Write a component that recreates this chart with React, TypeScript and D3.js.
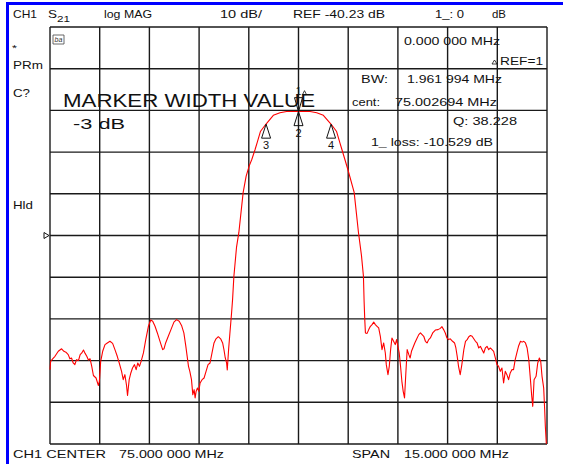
import React from 'react';
import * as d3 from 'd3';

// analyzer settings
const START_MHZ = 67.5;
const STOP_MHZ = 82.5;
const REF_DB = -40.23;
const DB_PER_DIV = 10;
const DIVS = 10;

// S21 trace (MHz, dB)
const traceMHz = [
  67.5, 67.52, 67.58, 67.65, 67.75, 67.85, 67.92, 67.98, 68.05, 68.1, 68.15, 68.2, 68.25, 68.3, 68.36, 68.41,
  68.46, 68.51, 68.56, 68.61, 68.66, 68.71, 68.76, 68.81, 68.89, 68.96, 68.99, 69.03, 69.09, 69.16, 69.23, 69.31,
  69.39, 69.46, 69.53, 69.59, 69.66, 69.71, 69.76, 69.81, 69.84, 69.89, 69.94, 69.99, 70.05, 70.1, 70.15, 70.2,
  70.25, 70.32, 70.39, 70.47, 70.54, 70.6, 70.67, 70.74, 70.82, 70.9, 70.94, 70.99, 71.07, 71.15, 71.24, 71.32,
  71.4, 71.47, 71.54, 71.6, 71.64, 71.68, 71.72, 71.77, 71.81, 71.85, 71.88, 71.91, 71.95, 71.99, 72.03, 72.09,
  72.15, 72.21, 72.27, 72.33, 72.39, 72.45, 72.51, 72.58, 72.65, 72.71, 72.75, 72.79, 72.83, 72.85, 72.89, 72.93,
  72.98, 73.01, 73.05, 73.13, 73.2, 73.33, 73.42, 73.51, 73.59, 73.69, 73.75, 73.85, 74.02, 74.24, 74.44, 74.64,
  75.0, 75.35, 75.55, 75.75, 75.98, 76.15, 76.25, 76.31, 76.4, 76.49, 76.68, 76.81, 76.9, 76.96, 76.98, 77.0,
  77.02, 77.07, 77.12, 77.17, 77.22, 77.27, 77.32, 77.37, 77.42, 77.47, 77.52, 77.57, 77.62, 77.65, 77.7, 77.74,
  77.78, 77.82, 77.87, 77.92, 77.96, 78.0, 78.04, 78.08, 78.12, 78.16, 78.2, 78.24, 78.28, 78.33, 78.37, 78.41,
  78.45, 78.51, 78.57, 78.63, 78.68, 78.73, 78.78, 78.83, 78.88, 78.93, 78.98, 79.05, 79.13, 79.21, 79.28, 79.33,
  79.38, 79.43, 79.48, 79.53, 79.58, 79.65, 79.71, 79.75, 79.79, 79.83, 79.88, 79.93, 79.99, 80.04, 80.09, 80.14,
  80.19, 80.24, 80.29, 80.34, 80.39, 80.44, 80.49, 80.54, 80.59, 80.64, 80.69, 80.74, 80.79, 80.84, 80.89, 80.94,
  80.99, 81.04, 81.09, 81.14, 81.19, 81.24, 81.29, 81.34, 81.39, 81.44, 81.49, 81.54, 81.59, 81.64, 81.7, 81.75,
  81.8, 81.85, 81.9, 81.95, 82.0, 82.04, 82.07, 82.11, 82.17, 82.22, 82.27, 82.31, 82.35, 82.4, 82.43, 82.45,
  82.48,
];
const traceDb = [
  -72.4, -70.4, -69.8, -69.2, -68.0, -67.4, -68.0, -68.2, -68.8, -69.8, -69.6, -70.8, -71.2, -70.0, -70.2, -68.8,
  -68.4, -67.7, -68.5, -69.2, -70.1, -69.8, -71.6, -73.8, -74.4, -76.2, -75.2, -70.4, -68.0, -66.4, -66.0, -65.6,
  -66.1, -67.6, -69.2, -70.8, -72.8, -74.8, -73.6, -76.2, -78.6, -74.8, -73.2, -72.0, -71.2, -72.4, -70.8, -71.6,
  -70.4, -68.4, -65.2, -62.0, -60.5, -60.8, -62.0, -63.6, -65.6, -67.6, -67.4, -66.0, -64.4, -62.8, -61.0, -60.4,
  -60.8, -61.8, -63.6, -66.8, -69.2, -71.6, -72.8, -74.8, -78.4, -77.2, -79.2, -77.6, -76.8, -77.6, -75.6, -74.8,
  -74.4, -72.8, -71.2, -70.8, -68.4, -66.0, -65.0, -64.5, -65.0, -66.0, -67.6, -69.6, -70.8, -72.5, -67.6, -63.6,
  -58.8, -55.6, -50.0, -43.0, -39.5, -29.9, -26.0, -23.6, -22.0, -19.6, -18.0, -15.3, -13.5, -11.4, -10.8, -10.5,
  -10.5, -10.5, -10.8, -11.4, -13.5, -15.3, -18.0, -19.6, -22.0, -24.4, -29.9, -39.5, -45.0, -50.0, -56.0, -60.4,
  -63.6, -63.7, -62.8, -62.0, -61.6, -61.0, -61.6, -62.0, -62.4, -64.4, -67.6, -66.0, -68.4, -71.2, -73.6, -71.6,
  -67.6, -64.8, -65.6, -66.4, -65.2, -66.8, -68.4, -71.6, -75.2, -77.6, -79.2, -73.2, -67.6, -68.8, -69.6, -68.0,
  -67.2, -66.0, -65.0, -64.0, -63.6, -64.0, -64.4, -65.6, -66.0, -65.2, -64.8, -63.6, -62.9, -62.8, -62.5, -62.1,
  -62.8, -63.6, -64.8, -65.2, -65.0, -65.6, -66.0, -67.2, -69.2, -71.6, -73.6, -71.2, -67.6, -65.6, -65.2, -64.5,
  -64.2, -64.4, -65.0, -65.6, -66.0, -67.2, -66.8, -67.6, -68.4, -67.2, -66.8, -67.6, -67.2, -67.6, -68.0, -69.6,
  -71.2, -71.6, -72.8, -72.0, -75.6, -72.8, -73.6, -74.8, -73.2, -72.4, -72.4, -70.0, -68.4, -66.8, -65.6, -65.8,
  -65.6, -66.0, -67.2, -70.0, -74.8, -78.8, -81.2, -74.8, -74.0, -70.8, -69.6, -70.4, -74.0, -76.8, -82.0, -86.0,
  -90.2,
];

// markers
const markerIds = ['1', '2', '3', '4'];
const markerMHz = [75.0, 75.0, 74.0217, 75.9837];
const markerDb = [-10.53, -10.53, -13.53, -13.53];

const FONT = "'Liberation Sans', Arial, sans-serif";

const T = ({ x, y, w, size = 11, children }: any) => (
  <text
    x={x}
    y={y}
    fontSize={size}
    fontFamily={FONT}
    fill="#111"
    textLength={w}
    lengthAdjust="spacingAndGlyphs"
  >
    {children}
  </text>
);

const App = () => {
  const width = 564;
  const height = 464;
  const x = d3.scaleLinear().domain([START_MHZ, STOP_MHZ]).range([50, 547]);
  const y = d3
    .scaleLinear()
    .domain([REF_DB - (DIVS / 2) * DB_PER_DIV, REF_DB + (DIVS / 2) * DB_PER_DIV])
    .range([444, 27]);

  const freqLines = d3.range(DIVS + 1).map(i => START_MHZ + (i * (STOP_MHZ - START_MHZ)) / DIVS);
  const dbLines = d3.range(DIVS + 1).map(i => REF_DB - (DIVS / 2) * DB_PER_DIV + i * DB_PER_DIV);

  const points = traceMHz.map((f, i) => [f, traceDb[i]] as [number, number]);
  const line = d3
    .line<[number, number]>()
    .x(d => x(d[0]))
    .y(d => y(d[1]));

  return (
    <svg width={width} height={height} style={{ position: 'absolute', left: 0, top: 0, background: '#fff' }}>
      {/* blue frame */}
      <rect x={6} y={2} width={3} height={height - 2} fill="#0000ff" />
      <rect x={6} y={2} width={557} height={3} fill="#0000ff" />

      {/* header */}
      <T x={13} y={18} w={24}>CH1</T>
      <T x={48} y={18} w={9}>S</T>
      <T x={57} y={22} w={13} size={9}>21</T>
      <T x={104} y={18} w={48}>log MAG</T>
      <T x={220} y={18} w={42}>10 dB/</T>
      <T x={293} y={18} w={92}>REF -40.23 dB</T>
      <T x={435} y={18} w={29}>1_: 0</T>
      <T x={492} y={18} w={14}>dB</T>

      {/* left status column */}
      <T x={12} y={51} w={5} size={9}>*</T>
      <T x={13} y={69} w={30}>PRm</T>
      <T x={13} y={97} w={17}>C?</T>
      <T x={13} y={209} w={20}>Hld</T>
      <path
        d={`M${44},${y(REF_DB) - 3}L${49},${y(REF_DB)}L${44},${y(REF_DB) + 3}Z`}
        fill="none"
        stroke="#111"
        strokeWidth={1}
      />

      {/* grid */}
      {freqLines.map((f, i) => (
        <line key={'v' + i} x1={x(f)} x2={x(f)} y1={y.range()[1]} y2={y.range()[0]} stroke="#1a1a1a" strokeWidth={1.4} />
      ))}
      {dbLines.map((d, i) => (
        <line key={'h' + i} x1={x.range()[0]} x2={x.range()[1]} y1={y(d)} y2={y(d)} stroke="#1a1a1a" strokeWidth={1.4} />
      ))}

      {/* small icon top-left of grid */}
      <g transform="translate(53,35)">
        <path d="M0,0H11V9H0Z" fill="none" stroke="#444" strokeWidth={0.8} />
        <text x={1.5} y={7} fontSize={7} fontStyle="italic" fontFamily={FONT} fill="#333">ba</text>
      </g>

      {/* marker readout */}
      <T x={404} y={45} w={96}>0.000 000 MHz</T>
      <path d="M492,64L494.5,60L497,64Z" fill="none" stroke="#111" strokeWidth={0.8} />
      <T x={500} y={65} w={43}>REF=1</T>
      <T x={361} y={83} w={27}>BW:</T>
      <T x={407} y={83} w={95}>1.961 994 MHz</T>
      <T x={352} y={106} w={28}>cent:</T>
      <T x={395} y={106} w={102}>75.002694 MHz</T>
      <T x={453} y={125} w={64}>Q: 38.228</T>
      <T x={371} y={146} w={122}>1_ loss: -10.529 dB</T>

      <T x={63} y={107} w={252} size={18.5}>MARKER WIDTH VALUE</T>
      <T x={73} y={129} w={52} size={15.5}>-3 dB</T>

      {/* trace */}
      <path d={line(points) || ''} fill="none" stroke="#ff0000" strokeWidth={1.1} strokeLinejoin="round" />

      {/* markers */}
      {markerIds.map((id, i) => {
        const mx = x(markerMHz[i]);
        const my = y(markerDb[i]);
        if (id === '1') {
          return (
            <g key={id}>
              <path d={`M${mx},${my}L${mx - 4},${my - 14}L${mx + 4},${my - 14}Z`} fill="none" stroke="#111" strokeWidth={1} />
              <text x={mx} y={my - 17} fontSize={10} fontFamily={FONT} textAnchor="middle" fill="#111">1</text>
              <path d={`M${mx + 4},${my - 17}L${mx + 6},${my - 21}L${mx + 8},${my - 17}Z`} fill="none" stroke="#111" strokeWidth={0.8} />
            </g>
          );
        }
        return (
          <g key={id}>
            <path d={`M${mx},${my}L${mx - 4.5},${my + 14}L${mx + 4.5},${my + 14}Z`} fill="none" stroke="#111" strokeWidth={1} />
            <text x={mx} y={my + 25} fontSize={11} fontFamily={FONT} textAnchor="middle" fill="#111">{id}</text>
          </g>
        );
      })}

      {/* footer */}
      <T x={13} y={458} w={93} size={11.5}>CH1 CENTER</T>
      <T x={119} y={458} w={105} size={11.5}>75.000 000 MHz</T>
      <T x={352} y={458} w={38} size={11.5}>SPAN</T>
      <T x={404} y={458} w={105} size={11.5}>15.000 000 MHz</T>
    </svg>
  );
};

export default App;
